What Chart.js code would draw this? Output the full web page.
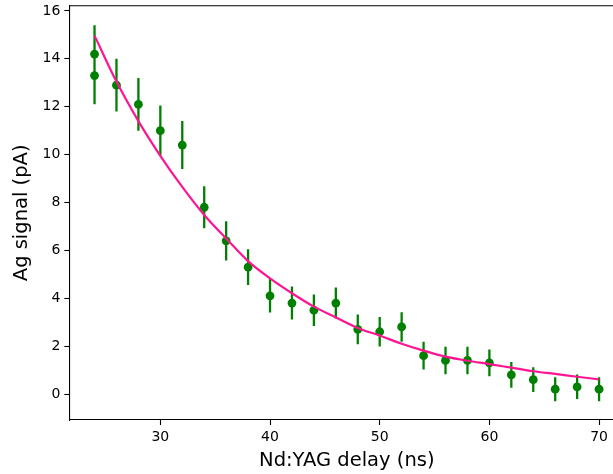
<!DOCTYPE html>
<html>
<head>
<meta charset="utf-8">
<script src="https://cdn.jsdelivr.net/npm/chart.js@4/dist/chart.umd.min.js"></script>
<style>
    html, body { margin: 0; padding: 0; background: #fff; overflow: hidden; }
    #wrap { width: 613px; height: 474px; overflow: hidden; }
</style>
</head>
<body>
<div id="wrap"><canvas id="chart" width="630" height="474"></canvas></div>
<script>
// Measured data (delay in ns, signal in pA)
const delays = [24, 24, 26, 28, 30, 32, 34, 36, 38, 40, 42, 44, 46, 48, 50, 52, 54, 56, 58, 60, 62, 64, 66, 68, 70];
const signal = [14.2, 13.3, 12.9, 12.1, 11.0, 10.4, 7.8, 6.4, 5.3, 4.1, 3.8, 3.5, 3.8, 2.7, 2.6, 2.8, 1.6, 1.4, 1.4, 1.3, 0.8, 0.6, 0.2, 0.3, 0.2];
const errors = [1.2, 1.2, 1.1, 1.1, 1.05, 1.0, 0.88, 0.82, 0.75, 0.7, 0.69, 0.66, 0.65, 0.62, 0.62, 0.62, 0.58, 0.57, 0.57, 0.56, 0.54, 0.52, 0.5, 0.51, 0.5];

// Fitted curve
const fitDelays = [24, 26, 28, 30, 32, 34, 36, 38, 40, 42, 44, 46, 48, 50, 52, 54, 56, 58, 60, 62, 64, 66, 68, 70];
const fitSignal = [14.97, 13.05, 11.4, 9.95, 8.65, 7.48, 6.5, 5.55, 4.83, 4.21, 3.65, 3.2, 2.76, 2.44, 2.1, 1.81, 1.56, 1.39, 1.25, 1.1, 0.95, 0.84, 0.72, 0.61];

// Axis ticks
const xTicks = [30, 40, 50, 60, 70];
const yTicks = [0, 2, 4, 6, 8, 10, 12, 14, 16];

const FONT = "'DejaVu Sans', sans-serif";

// Build error bar segments separated by gaps
function buildErrorBars() {
    const pts = [];
    delays.forEach((x, i) => {
        pts.push({ x: x, y: signal[i] - errors[i] });
        pts.push({ x: x, y: signal[i] + errors[i] });
        pts.push({ x: x, y: null });
    });
    return pts;
}

// Draw the top spine of the frame
const framePlugin = {
    id: 'frame',
    afterDraw(chart) {
        const { ctx, chartArea } = chart;
        ctx.save();
        ctx.strokeStyle = '#000';
        ctx.lineWidth = 1.1;
        ctx.beginPath();
        ctx.moveTo(chartArea.left, chartArea.top);
        ctx.lineTo(chartArea.right, chartArea.top);
        ctx.lineTo(chartArea.right, chartArea.bottom);
        ctx.stroke();
        ctx.restore();
    }
};

function fixPadding(scale) {
    scale.paddingTop = 0;
    scale.paddingBottom = 0;
    scale.paddingLeft = 0;
    scale.paddingRight = 0;
}

const ctx = document.getElementById('chart').getContext('2d');
new Chart(ctx, {
    type: 'scatter',
    data: {
        datasets: [
            {
                label: 'fit',
                type: 'line',
                data: fitDelays.map((x, i) => ({ x: x, y: fitSignal[i] })),
                borderColor: '#ff1493',
                borderWidth: 2.2,
                pointRadius: 0,
                cubicInterpolationMode: 'monotone',
                fill: false,
                order: 0
            },
            {
                label: 'data',
                data: delays.map((x, i) => ({ x: x, y: signal[i] })),
                backgroundColor: '#008000',
                borderColor: '#008000',
                pointRadius: 4.4,
                pointBorderWidth: 0,
                order: 1
            },
            {
                label: 'errors',
                type: 'line',
                data: buildErrorBars(),
                borderColor: '#008000',
                borderWidth: 2.3,
                pointRadius: 0,
                spanGaps: false,
                fill: false,
                order: 2
            }
        ]
    },
    options: {
        responsive: false,
        animation: false,
        layout: { padding: { left: 0, right: 5.7, top: 5.7, bottom: 0 } },
        plugins: {
            legend: { display: false },
            tooltip: { enabled: false }
        },
        scales: {
            x: {
                type: 'linear',
                min: 21.7,
                max: 72.3,
                afterBuildTicks: s => { s.ticks = xTicks.map(v => ({ value: v })); },
                afterFit: s => { s.height = 54; fixPadding(s); },
                grid: { drawOnChartArea: false, tickLength: 5, tickColor: '#000', tickWidth: 1.1 },
                border: { color: '#000', width: 1.1 },
                ticks: { color: '#000', padding: 4, font: { family: FONT, size: 14 }, maxRotation: 0 },
                title: {
                    display: true,
                    text: 'Nd:YAG delay (ns)',
                    color: '#000',
                    font: { family: FONT, size: 19.5 },
                    padding: { top: 0, bottom: 1.3 }
                }
            },
            y: {
                min: -1.086,
                max: 16.22,
                afterBuildTicks: s => { s.ticks = yTicks.map(v => ({ value: v })); },
                afterFit: s => { s.width = 69.3; fixPadding(s); },
                grid: { drawOnChartArea: false, tickLength: 5, tickColor: '#000', tickWidth: 1.1 },
                border: { color: '#000', width: 1.1 },
                ticks: { color: '#000', padding: 4, font: { family: FONT, size: 14 } },
                title: {
                    display: true,
                    text: 'Ag signal (pA)',
                    color: '#000',
                    font: { family: FONT, size: 19.5 },
                    padding: { top: 10.3, bottom: 0 }
                }
            }
        }
    },
    plugins: [framePlugin]
});
</script>
</body>
</html>
